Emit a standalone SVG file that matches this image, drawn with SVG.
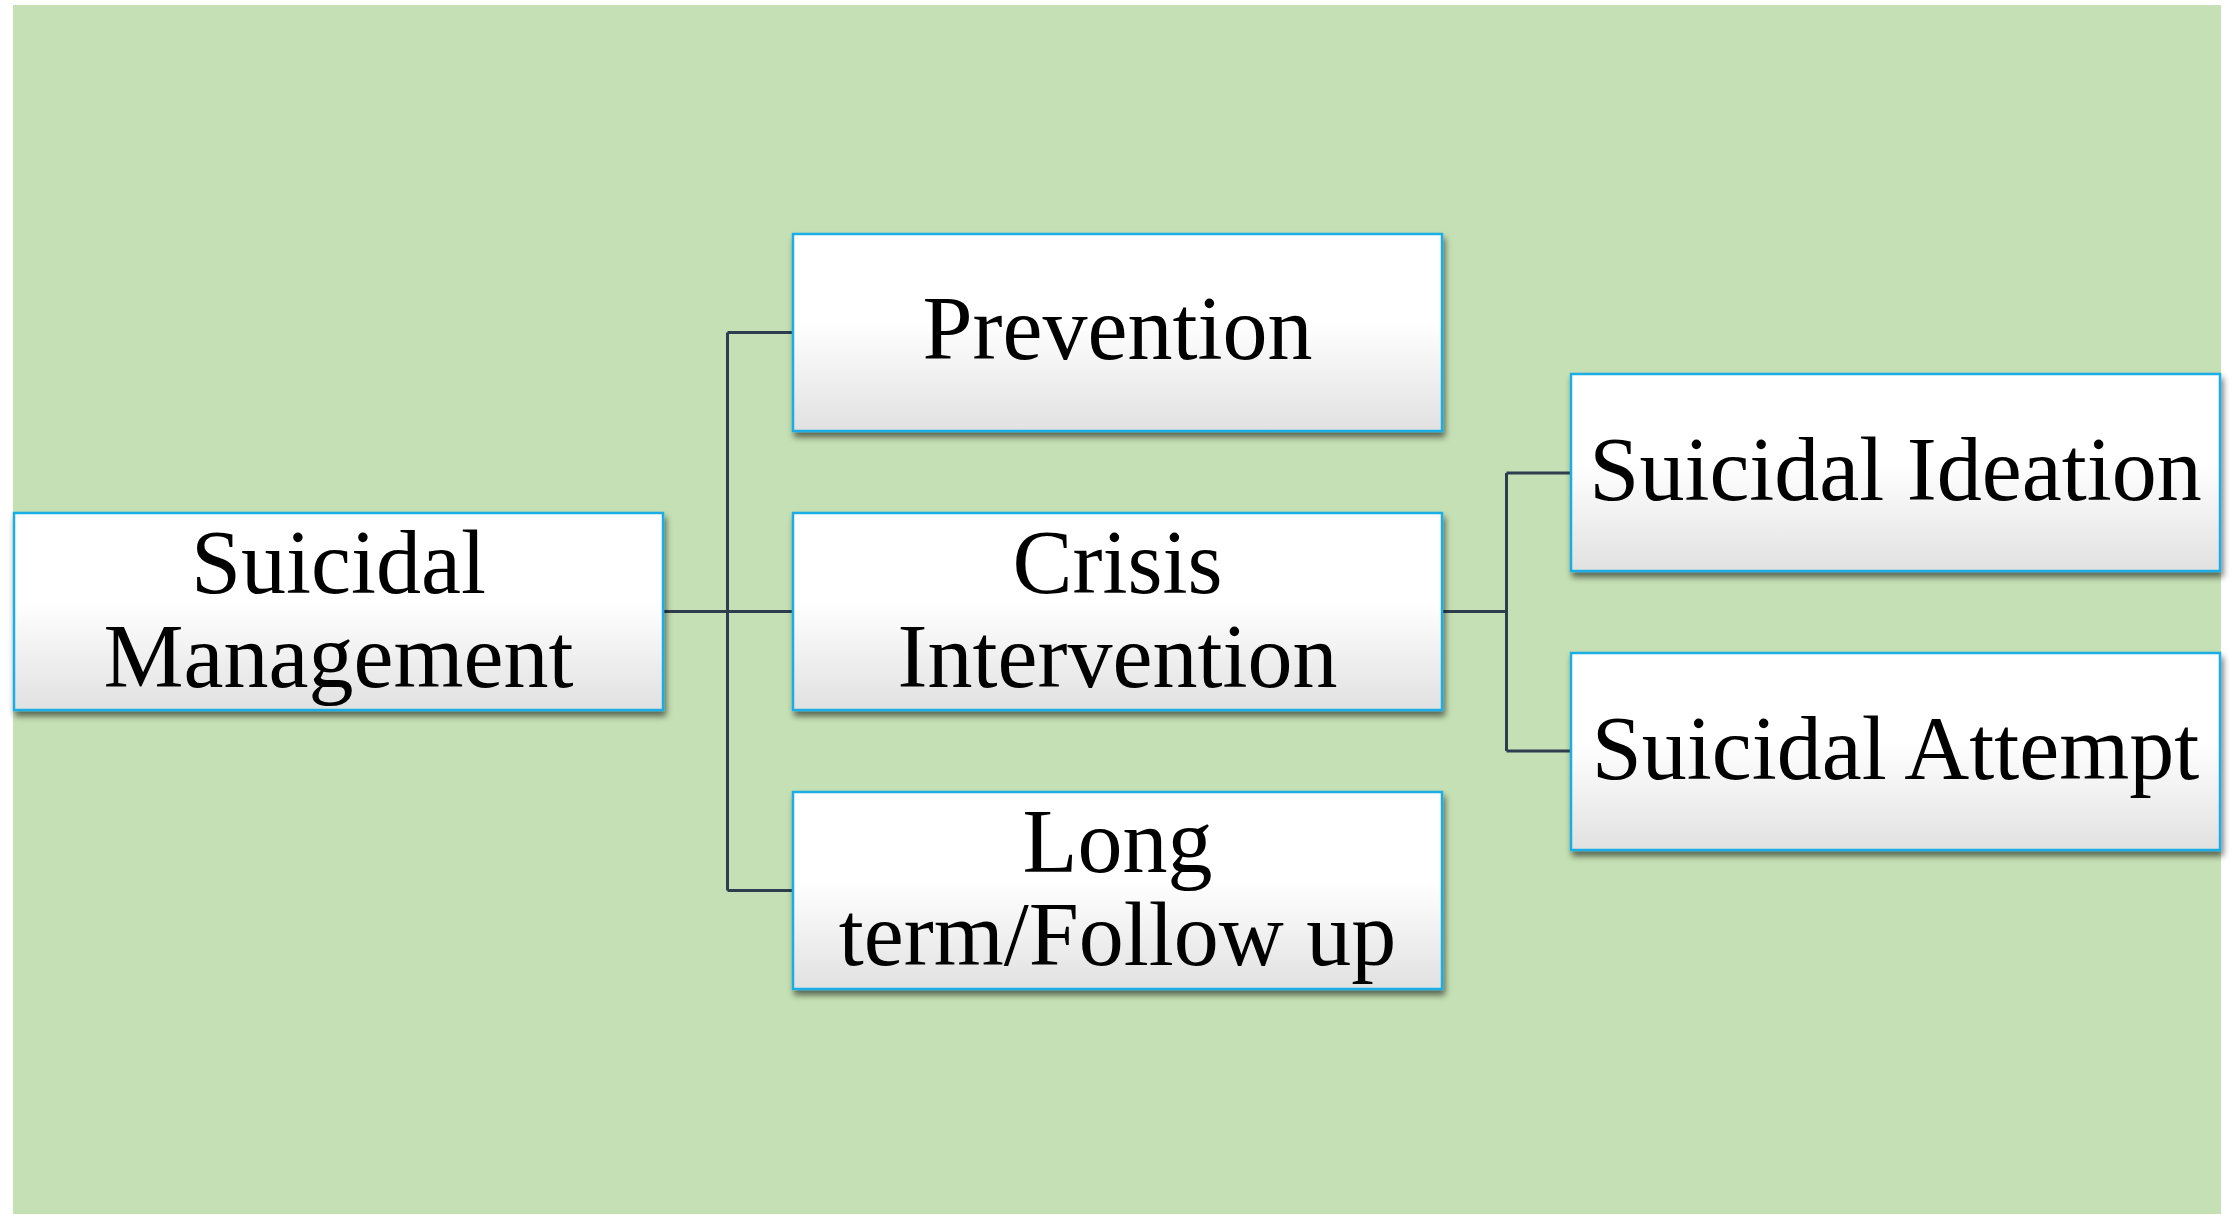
<svg xmlns="http://www.w3.org/2000/svg" width="2236" height="1214" viewBox="0 0 2236 1214">
<defs>
<linearGradient id="boxFill" x1="0" y1="0" x2="0" y2="1">
<stop offset="0" stop-color="#FFFFFF"/>
<stop offset="0.45" stop-color="#FFFFFF"/>
<stop offset="1" stop-color="#E1E1E1"/>
</linearGradient>
<filter id="shadow" x="-5%" y="-10%" width="112%" height="125%">
<feGaussianBlur in="SourceAlpha" stdDeviation="3"/>
<feOffset dx="2" dy="5" result="b"/>
<feComponentTransfer><feFuncA type="linear" slope="0.55"/></feComponentTransfer>
<feMerge><feMergeNode/><feMergeNode in="SourceGraphic"/></feMerge>
</filter>
</defs>
<style>
.box{fill:url(#boxFill);stroke:#1AADE4;stroke-width:2.5;filter:url(#shadow)}
.lbl{font-family:"Liberation Serif","Times New Roman",serif;font-size:90px;fill:#000;text-anchor:middle}
.conn{fill:none;stroke:#2F3E4F;stroke-width:3}
</style>
<rect x="13" y="5" width="2208" height="1209" fill="#C5E0B4"/>
<g id="connectors">
<path class="conn" d="M663 611.5 H727.5 M727.5 332.5 V890.5 M727.5 332.5 H793 M727.5 611.5 H793 M727.5 890.5 H793"/>
<path class="conn" d="M1442 611.5 H1506.5 M1506.5 473 V751 M1506.5 473 H1571 M1506.5 751 H1571"/>
</g>
<g id="suicidal-management">
<rect class="box" x="14" y="513" width="649" height="197"/>
<text class="lbl" x="338.5" y="593">Suicidal</text>
<text class="lbl" x="338.5" y="687">Management</text>
</g>
<g id="prevention">
<rect class="box" x="793" y="234" width="649" height="197"/>
<text class="lbl" x="1117.5" y="359">Prevention</text>
</g>
<g id="crisis-intervention">
<rect class="box" x="793" y="513" width="649" height="197"/>
<text class="lbl" x="1117.5" y="593">Crisis</text>
<text class="lbl" x="1117.5" y="687">Intervention</text>
</g>
<g id="long-term">
<rect class="box" x="793" y="792" width="649" height="197"/>
<text class="lbl" x="1117.5" y="872">Long</text>
<text class="lbl" x="1117.5" y="965">term/Follow up</text>
</g>
<g id="suicidal-ideation">
<rect class="box" x="1571" y="374" width="649" height="197"/>
<text class="lbl" x="1895.5" y="500">Suicidal Ideation</text>
</g>
<g id="suicidal-attempt">
<rect class="box" x="1571" y="653" width="649" height="197"/>
<text class="lbl" x="1895.5" y="779">Suicidal Attempt</text>
</g>
</svg>
